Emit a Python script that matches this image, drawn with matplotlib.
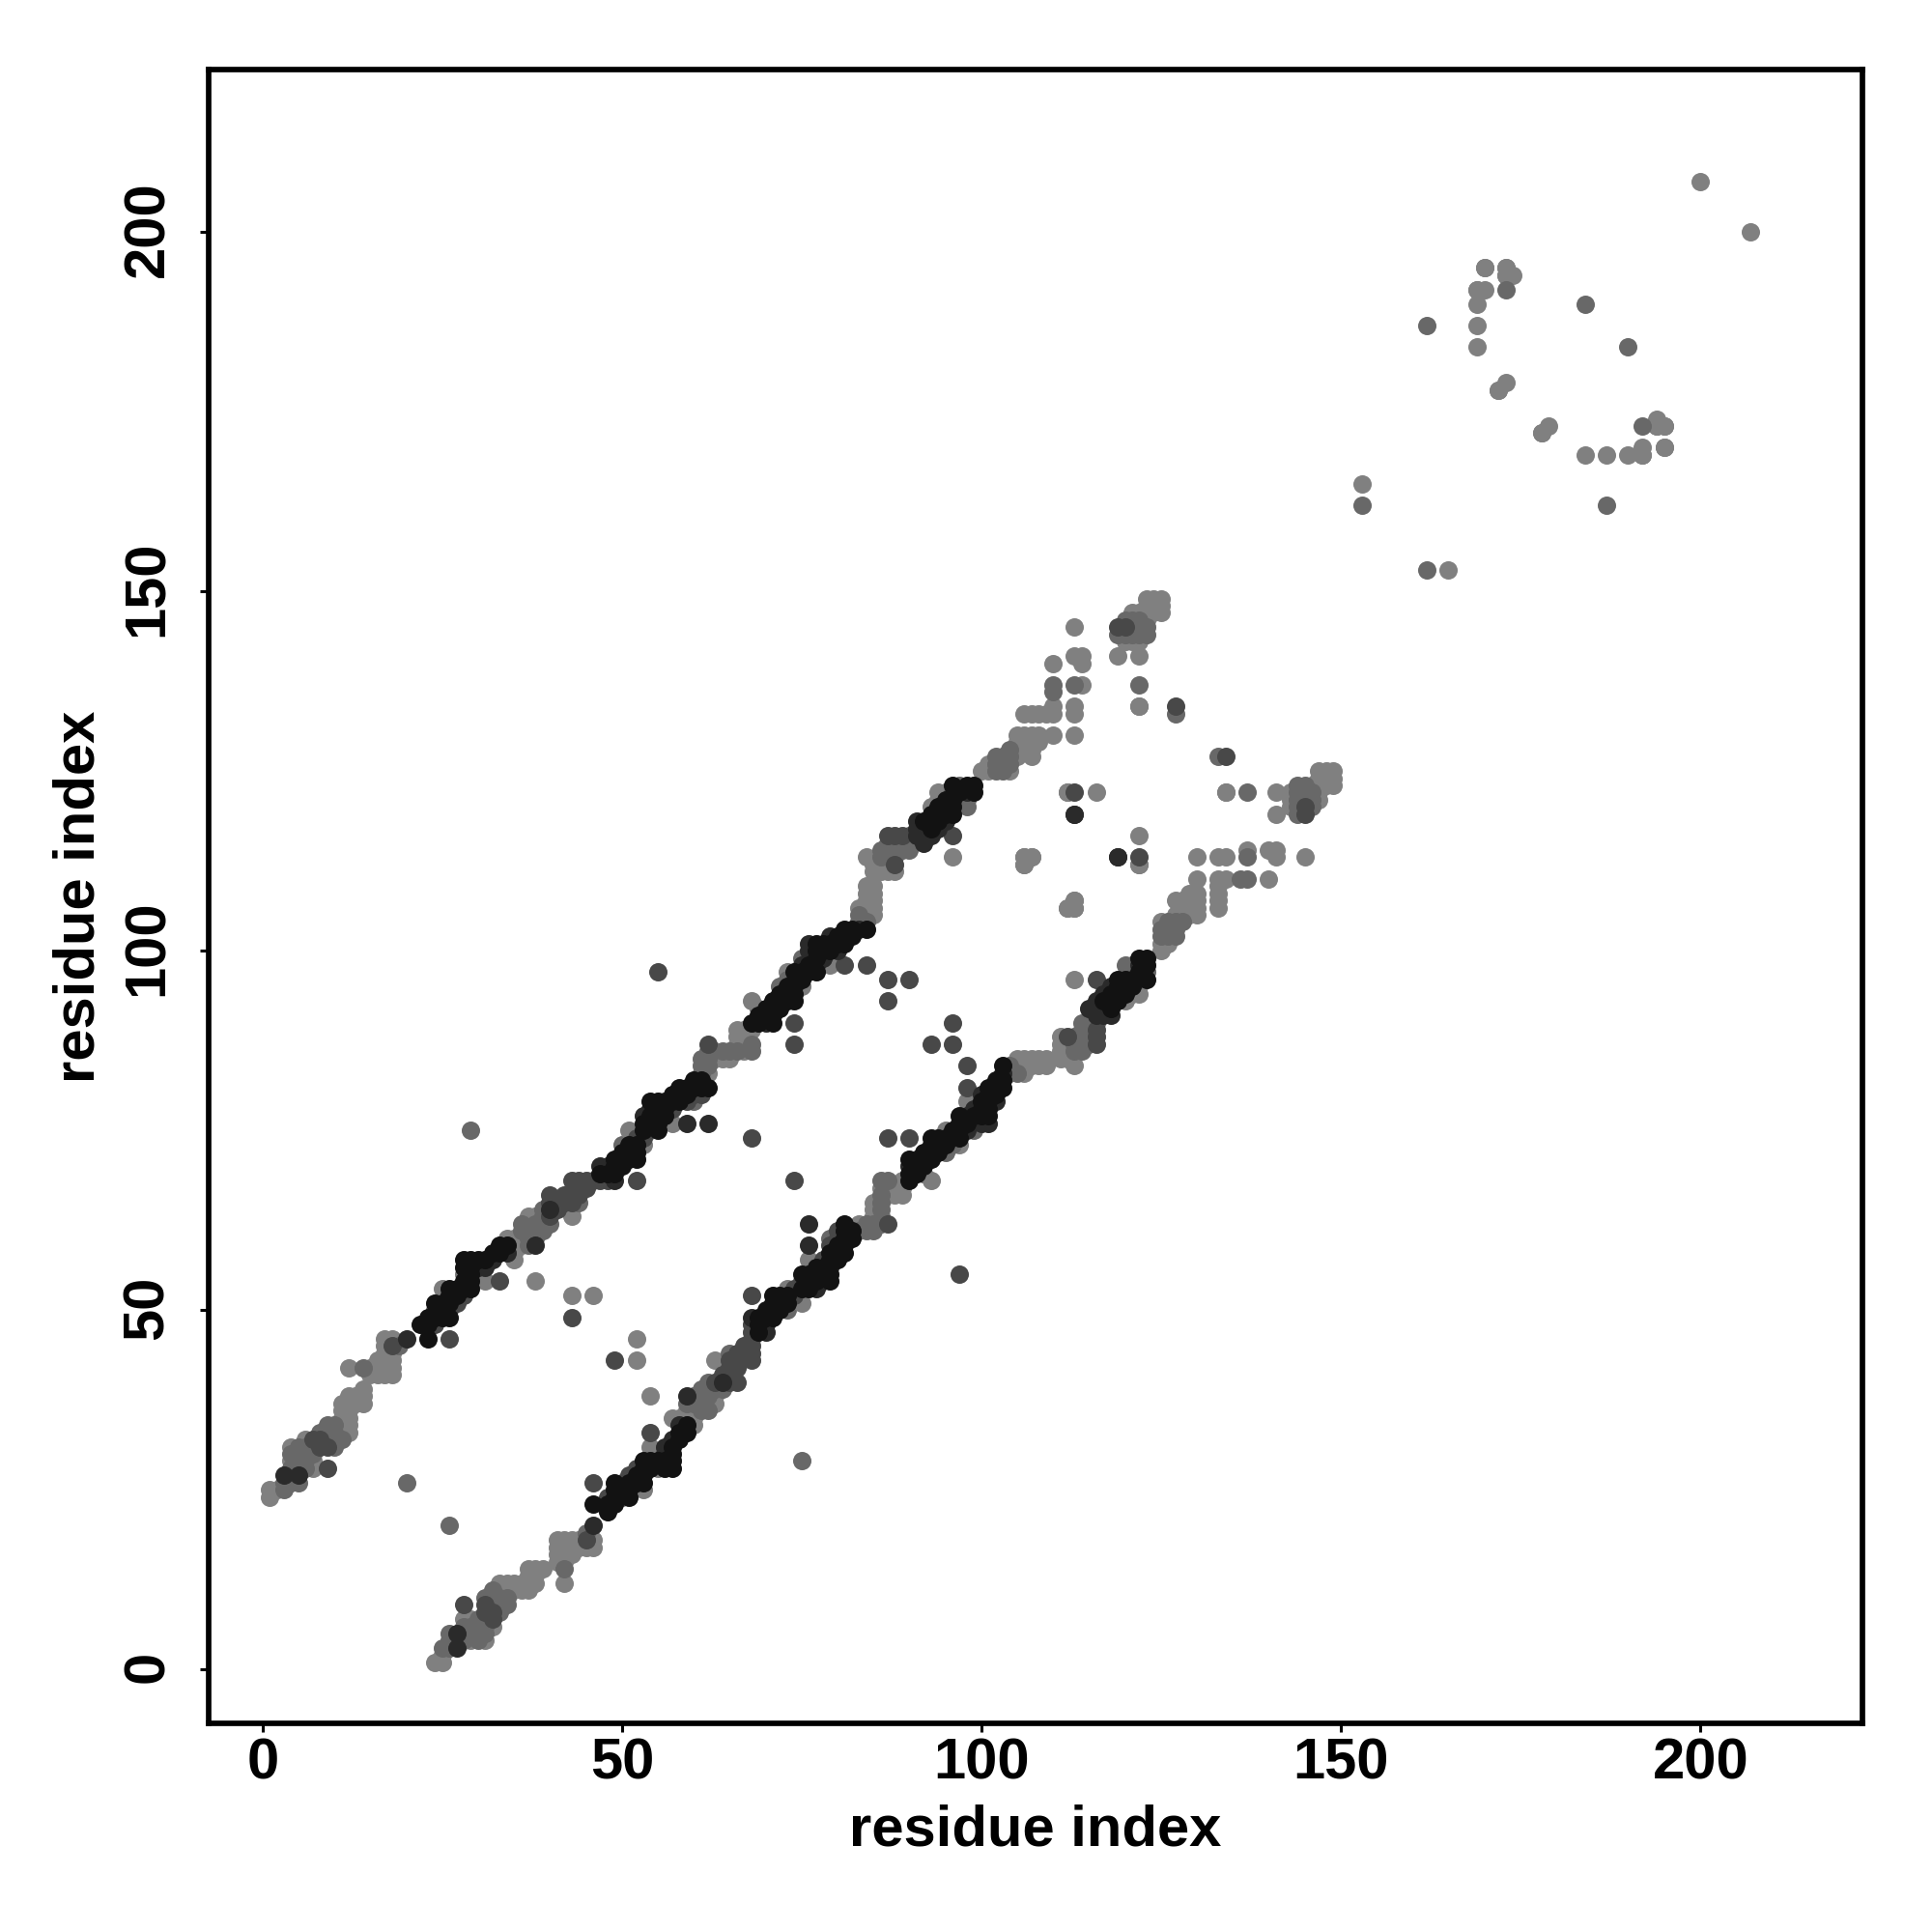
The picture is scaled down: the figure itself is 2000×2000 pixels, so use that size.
# contact map of a protein, shade = contact strength
# only the i<j half is listed, the other half is the mirror image
import numpy as np
import matplotlib
matplotlib.use('Agg')
import matplotlib.pyplot as plt
from matplotlib.transforms import ScaledTranslation

plt.rcParams['font.family'] = ['Liberation Sans', 'DejaVu Sans']

light = [(1,24),(1,25),(2,25),(4,29),(4,31),(6,32),(7,28),(7,29),(11,33),(11,34),(11,35),(11,36),(11,37),
         (12,33),(12,34),(12,35),(12,36),(12,37),(12,38),(13,37),(13,38),(14,37),(14,38),(14,39),(12,42),
         (15,41),(15,42),(16,41),(16,42),(16,43),(17,41),(17,42),(17,43),(17,44),(17,45),(17,46),(18,41),
         (18,42),(18,43),(18,44),(18,46),(34,60),(35,57),(35,58),(35,59),(35,60),(36,59),(36,60),(37,62),
         (37,63),(38,54),(38,63),(43,52),(46,52),(43,63),(62,83),(63,85),(63,86),(64,85),(65,85),(66,87),
         (66,88),(66,89),(67,86),(67,87),(67,88),(67,89),(68,89),(76,99),(73,97),(83,106),(84,105),(85,105),
         (84,106),(85,106),(84,107),(85,107),(84,108),(85,108),(84,109),(85,109),(84,113),(85,111),(85,112),
         (86,111),(86,112),(87,111),(88,111),(87,112),(93,120),(94,121),(94,122),(95,122),(96,113),(100,125),
         (101,125),(101,126),(104,125),(105,127),(105,128),(105,129),(105,130),(106,128),(106,129),(106,130),
         (107,128),(107,129),(107,130),(108,129),(108,130),(107,127),(106,133),(107,133),(108,133),(109,133),
         (110,130),(110,133),(110,134),(110,140),(113,130),(113,133),(113,134),(113,141),(114,141),(114,140),
         (113,145),(114,137),(122,134),(122,112),(112,122),(106,113),(107,113),(106,112),(113,106),(113,107),
         (112,106),(119,141),(122,141),(122,143),(121,143),(120,143),(121,147),(123,148),(123,149),(124,147),
         (124,148),(124,149),(125,149),(125,148),(125,147),(123,146),(122,147),(123,147),(116,122),(134,122),
         (153,165),(169,184),(169,187),(169,190),(169,192),(170,192),(170,195),(172,178),(173,179),(173,194),
         (173,195),(174,194),(178,172),(192,169),(195,170),(195,173),(194,173),(200,207)]
mid = [(3,25),(3,26),(4,26),(4,27),(4,28),(5,26),(5,28),(5,29),(5,30),(4,30),(5,31),(6,28),(6,29),(6,30),
       (6,31),(7,30),(7,31),(9,34),(10,31),(10,34),(11,32),(14,42),(19,45),(24,50),(36,61),(36,62),(37,59),
       (37,60),(37,61),(38,60),(38,61),(38,62),(39,61),(39,62),(39,63),(39,64),(40,62),(44,65),(43,66),
       (46,68),(50,73),(54,75),(60,79),(62,84),(61,83),(61,84),(61,85),(62,85),(62,86),(64,86),(65,86),
       (66,86),(68,86),(68,87),(69,92),(75,99),(83,104),(83,105),(84,104),(87,113),(86,113),(86,114),(87,114),
       (88,113),(88,114),(89,114),(90,114),(90,115),(87,115),(88,115),(89,115),(90,116),(98,121),(97,123),
       (102,125),(102,126),(102,127),(103,125),(103,126),(103,127),(104,126),(104,127),(104,128),(110,136),
       (110,137),(113,137),(119,144),(120,144),(120,146),(121,144),(121,145),(121,146),(122,144),(122,137),
       (122,145),(122,146),(123,144),(123,145),(127,133),(20,26),(29,75),(153,162),(162,187),(173,192),
       (184,190),(8,33),(9,32),(9,33),(10,32),(10,33),(72,95),(73,96),(74,96),(98,120),(97,121),(96,122)]
# light contacts that sit over the mid ones
on_top = [(25,53),(28,55),(31,54),(41,65),(53,73),(51,75),(57,76),(68,93),(75,95),(79,98)]
dark = [(9,31),(9,28),(8,31),(7,32),(8,32),(18,45),(26,46),(33,54),(40,63),(40,65),(40,66),(41,64),(42,65),
        (42,66),(43,65),(43,68),(44,66),(44,67),(44,68),(45,67),(45,68),(47,68),(48,68),(52,68),(62,87),(68,74),
        (74,87),(74,90),(81,98),(84,98),(87,93),(87,96),(90,96),(96,116),(55,97),(113,122),(87,116),(88,116),
        (89,116),(127,134),(88,112),(43,49),(113,119),(119,145),(120,145),(24,48),(26,50),(27,51),(28,52),
        (52,74),(53,74),(57,78),(59,79),(61,80),(60,80)]
deep = [(3,27),(5,27),(20,46),(38,59),(40,64),(59,76),(62,76),(49,68),(91,116),(91,118),(92,115),(92,116),
        (93,116),(83,103),(119,113),(30,56),(31,56),(32,57),(34,58),(47,70),(48,70),(53,77),(54,78),(56,79),
        (70,90),(71,91),(75,98),(76,100),(76,101),(77,98),(78,99),(80,100),(79,102),(91,117),(92,117),(94,117),
        (95,118),(98,122)]
black = [(23,46),(22,48),(23,48),(23,49),(24,49),(25,49),(25,50),(25,51),(24,51),(26,49),(26,51),(26,52),
         (26,53),(27,52),(27,53),(28,53),(29,53),(28,54),(29,54),(29,55),(29,56),(28,56),(28,57),(29,57),
         (30,57),(31,57),(32,58),(33,58),(33,59),(34,59),(47,69),(48,69),(49,69),(49,70),(49,71),(50,70),
         (50,71),(50,72),(51,71),(51,72),(51,73),(52,71),(52,72),(52,73),(53,75),(53,76),(54,76),(54,77),
         (54,79),(55,75),(55,76),(55,77),(55,78),(55,79),(56,77),(56,78),(57,79),(57,80),(58,79),(58,80),
         (58,81),(59,80),(59,81),(60,81),(60,82),(61,81),(61,82),(62,81),(68,90),(69,90),(69,91),(70,91),
         (70,92),(71,90),(71,92),(71,93),(72,92),(72,93),(72,94),(73,93),(73,94),(73,95),(74,93),(74,94),
         (74,95),(74,97),(75,96),(75,97),(76,97),(76,98),(77,97),(77,99),(77,100),(77,101),(78,100),(78,101),
         (79,100),(79,101),(80,101),(80,102),(81,101),(81,102),(81,103),(82,102),(82,103),(84,103),(92,118),
         (93,117),(93,118),(93,119),(94,118),(94,119),(94,120),(95,119),(95,120),(95,121),(96,119),(96,120),
         (96,121),(96,123),(97,122),(98,123),(99,122),(99,123)]

ticks = [0, 50, 100, 150, 200]
x_lim = (-7.45, 222.55)
y_lim = (-7.5, 222.6)

groups = [(light, '#808080'), (mid, '#686868'), (on_top, '#7c7c7c'), (dark, '#484848'), (deep, '#2a2a2a'),
          (black, '#121212')]

fig = plt.figure(figsize=(20, 20), dpi=100)
ax = fig.add_axes([216.3/2000, 1 - 1784/2000, (1927.5 - 216.3)/2000, (1784 - 72)/2000])
for pairs, col in groups:
    p = np.array(pairs)
    ax.scatter(np.r_[p[:, 0], p[:, 1]], np.r_[p[:, 1], p[:, 0]], s=187, c=col, linewidths=0, clip_on=False)

ax.set_xlim(x_lim)
ax.set_ylim(y_lim)
ax.set_xticks(ticks)
ax.set_yticks(ticks)
ax.tick_params(length=6.5, width=2.2, labelsize=43)
ax.tick_params(axis='x', pad=4)
ax.tick_params(axis='y', pad=19)
for lab in ax.get_xticklabels():
    lab.set_fontweight('bold')
    lab.set_transform(lab.get_transform() + ScaledTranslation(0.5/72, 0, fig.dpi_scale_trans))
for lab in ax.get_yticklabels():
    lab.set_fontweight('bold')
    lab.set_rotation(90)
    lab.set_va('center')
    lab.set_transform(lab.get_transform() + ScaledTranslation(0, 2/72, fig.dpi_scale_trans))
for s in ax.spines.values():
    s.set_linewidth(4.1)
ax.set_xlabel('residue index', fontsize=43, fontweight='bold', labelpad=10)
ax.set_ylabel('residue index', fontsize=43, fontweight='bold', labelpad=12)

fig.savefig('out.png', dpi=100)
